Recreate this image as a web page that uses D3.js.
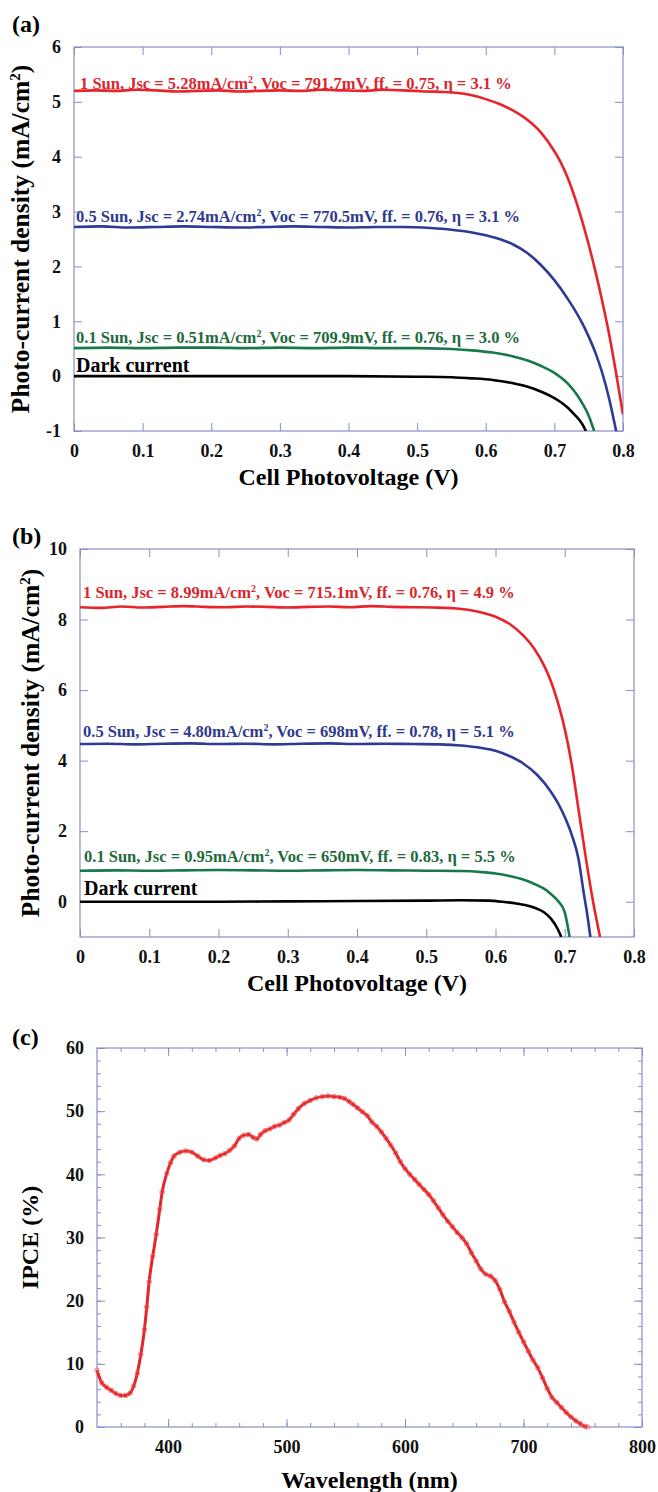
<!DOCTYPE html>
<html>
<head>
<meta charset="utf-8">
<script src="https://cdn.jsdelivr.net/npm/d3@7"></script>
<style>
  body { margin: 0; background: #fff; }
  text { font-family: "Liberation Serif", "Times New Roman", serif; font-weight: bold; }
</style>
</head>
<body>
<div id="chart"></div>
<script>
// ---------- data ----------
var ivTicksX = [0, 0.1, 0.2, 0.3, 0.4, 0.5, 0.6, 0.7, 0.8];
var aTicksY = [-1, 0, 1, 2, 3, 4, 5, 6];
var bTicksY = [0, 2, 4, 6, 8, 10];
var cTicksX = [400, 500, 600, 700, 800];
var cTicksY = [0, 10, 20, 30, 40, 50, 60];

// (a) J-V curves, [V, mA/cm2]
var aSun1 = [[0,5.20],[0.03,5.21],[0.06,5.20],[0.09,5.22],[0.12,5.21],[0.15,5.19],[0.18,5.20],[0.21,5.21],[0.24,5.19],[0.27,5.20],[0.30,5.21],[0.33,5.20],[0.36,5.22],[0.39,5.21],[0.42,5.20],[0.45,5.22],[0.48,5.21],[0.51,5.19],[0.54,5.18],[0.56,5.16],[0.58,5.12],[0.60,5.05],[0.62,4.96],[0.64,4.84],[0.66,4.68],[0.68,4.45],[0.70,4.10],[0.71,3.88],[0.72,3.60],[0.73,3.25],[0.74,2.85],[0.75,2.40],[0.76,1.90],[0.77,1.35],[0.78,0.75],[0.79,0.05],[0.80,-0.70]];
var aSun05 = [[0,2.72],[0.04,2.73],[0.08,2.71],[0.12,2.72],[0.16,2.73],[0.20,2.72],[0.24,2.71],[0.28,2.72],[0.32,2.73],[0.36,2.72],[0.40,2.71],[0.44,2.72],[0.48,2.72],[0.52,2.70],[0.55,2.67],[0.58,2.62],[0.60,2.57],[0.62,2.50],[0.64,2.40],[0.66,2.25],[0.68,2.03],[0.70,1.75],[0.72,1.40],[0.74,0.98],[0.75,0.72],[0.76,0.42],[0.77,0.05],[0.78,-0.42],[0.79,-1.0]];
var aSun01 = [[0,0.51],[0.05,0.52],[0.10,0.51],[0.15,0.52],[0.20,0.52],[0.25,0.51],[0.30,0.52],[0.35,0.51],[0.40,0.52],[0.45,0.51],[0.50,0.51],[0.54,0.50],[0.58,0.47],[0.61,0.43],[0.64,0.36],[0.66,0.29],[0.68,0.19],[0.70,0.06],[0.71,-0.03],[0.72,-0.14],[0.73,-0.29],[0.74,-0.48],[0.75,-0.72],[0.758,-1.0]];
var aDark = [[0,0],[0.1,0],[0.2,0],[0.3,0],[0.4,0],[0.5,-0.01],[0.55,-0.02],[0.58,-0.04],[0.61,-0.07],[0.64,-0.13],[0.66,-0.19],[0.68,-0.28],[0.70,-0.40],[0.71,-0.48],[0.72,-0.58],[0.73,-0.71],[0.74,-0.86],[0.746,-1.0]];

// (b) J-V curves
var bSun1 = [[0,8.35],[0.03,8.33],[0.06,8.37],[0.09,8.34],[0.12,8.36],[0.15,8.38],[0.18,8.36],[0.21,8.35],[0.24,8.37],[0.27,8.36],[0.30,8.34],[0.33,8.36],[0.36,8.37],[0.39,8.35],[0.42,8.38],[0.45,8.36],[0.48,8.35],[0.51,8.34],[0.54,8.32],[0.56,8.28],[0.58,8.20],[0.60,8.08],[0.62,7.88],[0.64,7.55],[0.655,7.20],[0.67,6.70],[0.68,6.25],[0.69,5.65],[0.70,4.90],[0.71,3.90],[0.72,2.60],[0.73,1.30],[0.74,0.10],[0.751,-1.0]];
var bSun05 = [[0,4.47],[0.04,4.48],[0.08,4.46],[0.12,4.48],[0.16,4.49],[0.20,4.47],[0.24,4.48],[0.28,4.46],[0.32,4.48],[0.36,4.49],[0.40,4.47],[0.44,4.48],[0.48,4.47],[0.52,4.46],[0.55,4.43],[0.58,4.36],[0.60,4.28],[0.62,4.13],[0.64,3.92],[0.66,3.60],[0.68,3.12],[0.69,2.80],[0.70,2.40],[0.71,1.90],[0.72,1.20],[0.727,0.30],[0.732,-0.30],[0.737,-1.0]];
var bSun01 = [[0,0.88],[0.05,0.89],[0.10,0.88],[0.15,0.89],[0.20,0.90],[0.25,0.89],[0.30,0.88],[0.35,0.89],[0.40,0.90],[0.45,0.89],[0.50,0.88],[0.55,0.87],[0.58,0.84],[0.60,0.80],[0.62,0.73],[0.64,0.63],[0.66,0.47],[0.67,0.37],[0.68,0.22],[0.69,0.03],[0.70,-0.30],[0.707,-1.0]];
var bDark = [[0,0],[0.1,0],[0.2,0],[0.3,0.01],[0.4,0.02],[0.5,0.03],[0.55,0.04],[0.59,0.03],[0.61,0],[0.63,-0.05],[0.65,-0.13],[0.66,-0.20],[0.67,-0.30],[0.68,-0.48],[0.69,-0.78],[0.695,-1.0]];

// (c) IPCE spectrum, [nm, %]
var ipce = [[340,9.0],[344,7.0],[348,6.3],[352,5.8],[356,5.3],[360,5.0],[364,5.0],[368,5.4],[371,6.5],[374,8.5],[377,11.5],[380,15.4],[382,19],[384,23],[387,27],[390,30.5],[393,34.5],[395,37.2],[399,40.2],[402,41.8],[405,42.9],[410,43.5],[415,43.7],[420,43.5],[425,42.9],[430,42.3],[435,42.2],[440,42.6],[444,43.0],[448,43.3],[452,43.8],[456,44.5],[460,45.7],[464,46.2],[468,46.3],[472,45.8],[475,45.6],[478,46.3],[482,46.9],[486,47.2],[490,47.6],[494,47.8],[498,48.2],[502,48.6],[506,49.5],[510,50.4],[515,51.2],[520,51.7],[525,52.1],[530,52.3],[535,52.4],[540,52.3],[545,52.2],[549,52.0],[553,51.5],[556,51.1],[560,50.5],[564,49.9],[568,49.3],[572,48.3],[576,47.6],[580,46.7],[584,45.7],[588,44.6],[592,43.4],[596,42.0],[600,40.9],[604,40.0],[608,39.2],[612,38.4],[616,37.6],[620,36.8],[624,35.8],[628,34.7],[632,33.6],[636,32.6],[640,31.7],[644,30.8],[648,30.0],[652,29.0],[656,27.6],[660,26.3],[664,25.0],[668,24.2],[672,23.9],[676,23.2],[680,21.8],[684,19.8],[688,18.3],[692,16.6],[696,15.0],[700,13.5],[704,12.0],[708,10.6],[712,9.4],[716,7.8],[720,6.1],[724,4.7],[728,3.9],[732,3.1],[736,2.3],[740,1.6],[744,1.0],[748,0.5],[752,0.1],[754,0.0]];

// annotation texts: [before superscript, superscript, after]
var aLabels = [
  ["1 Sun, Jsc = 5.28mA/cm", "2", ", Voc = 791.7mV, ff. = 0.75, η = 3.1 %"],
  ["0.5 Sun, Jsc = 2.74mA/cm", "2", ", Voc = 770.5mV, ff. = 0.76, η = 3.1 %"],
  ["0.1 Sun, Jsc = 0.51mA/cm", "2", ", Voc = 709.9mV, ff. = 0.76, η = 3.0 %"],
  ["Dark current", "", ""]
];
var bLabels = [
  ["1 Sun, Jsc = 8.99mA/cm", "2", ", Voc = 715.1mV, ff. = 0.76, η = 4.9 %"],
  ["0.5 Sun, Jsc = 4.80mA/cm", "2", ", Voc = 698mV, ff. = 0.78, η = 5.1 %"],
  ["0.1 Sun, Jsc = 0.95mA/cm", "2", ", Voc = 650mV, ff. = 0.83, η = 5.5 %"],
  ["Dark current", "", ""]
];

// ---------- drawing ----------
var frameColor = "#8a8ec6";
var lineColors = ["#e8232a", "#2d3a96", "#17784a", "#000"];
var textColors = ["#d8272e", "#2e3a8c", "#1d6a3c", "#000"];

var svg = d3.select("#chart")
  .append("svg")
  .attr("width", 658)
  .attr("height", 1492);

function fmtV(d) { return d === 0 ? "0" : d.toFixed(1); }

function drawPanel(p) {
  var x = d3.scaleLinear().domain(p.xDomain).range([p.left, p.right]);
  var y = d3.scaleLinear().domain(p.yDomain).range([p.bottom, p.top]);
  var g = svg.append("g");

  // minor ticks first (no labels)
  if (p.xMinor) {
    g.append("g").attr("transform", "translate(0," + p.bottom + ")")
      .call(d3.axisBottom(x).tickValues(p.xMinor).tickSize(-4).tickFormat(""));
    g.append("g").attr("transform", "translate(0," + p.top + ")")
      .call(d3.axisTop(x).tickValues(p.xMinor).tickSize(-4).tickFormat(""));
    g.append("g").attr("transform", "translate(" + p.left + ",0)")
      .call(d3.axisLeft(y).tickValues(p.yMinor).tickSize(-4).tickFormat(""));
    g.append("g").attr("transform", "translate(" + p.right + ",0)")
      .call(d3.axisRight(y).tickValues(p.yMinor).tickSize(-4).tickFormat(""));
  }

  // major ticks, inward on all four sides
  g.append("g").attr("class", "xlab").attr("transform", "translate(0," + p.bottom + ")")
    .call(d3.axisBottom(x).tickValues(p.xTicks).tickSize(-8).tickPadding(13).tickFormat(p.xFmt));
  g.append("g").attr("transform", "translate(0," + p.top + ")")
    .call(d3.axisTop(x).tickValues(p.xTicks).tickSize(-8).tickFormat(""));
  g.append("g").attr("class", "ylab").attr("transform", "translate(" + p.left + ",0)")
    .call(d3.axisLeft(y).tickValues(p.yTicks).tickSize(-8).tickPadding(13).tickFormat(function (d) { return String(d); }));
  g.append("g").attr("transform", "translate(" + p.right + ",0)")
    .call(d3.axisRight(y).tickValues(p.yTicks).tickSize(-8).tickFormat(""));

  g.selectAll(".domain").remove();
  g.selectAll(".tick line").attr("stroke", frameColor).attr("stroke-width", 1);
  g.selectAll(".xlab text, .ylab text")
    .attr("fill", "#111")
    .style("font-size", "18px");

  g.append("rect")
    .attr("x", p.left).attr("y", p.top)
    .attr("width", p.right - p.left).attr("height", p.bottom - p.top)
    .attr("fill", "none").attr("stroke", frameColor).attr("stroke-width", 1.2);

  var clipId = "clip" + p.tag;
  svg.append("clipPath").attr("id", clipId)
    .append("rect")
    .attr("x", p.left).attr("y", p.top)
    .attr("width", p.right - p.left).attr("height", p.bottom - p.top);

  // panel tag and axis titles
  svg.append("text").attr("x", 12).attr("y", p.tagY)
    .style("font-size", "24px").text("(" + p.tag + ")");

  svg.append("text")
    .attr("x", (p.left + p.right) / 2).attr("y", p.bottom + p.xTitleDy)
    .attr("text-anchor", "middle").style("font-size", "24px")
    .text(p.xTitle);

  var yt = svg.append("text")
    .attr("transform", "translate(" + p.yTitleX + "," + ((p.top + p.bottom) / 2) + ") rotate(-90)")
    .attr("text-anchor", "middle").style("font-size", p.yTitleSize)
    .text(p.yTitle[0]);
  if (p.yTitle[1]) {
    yt.append("tspan").attr("dy", -9).style("font-size", "15px").text(p.yTitle[1]);
    yt.append("tspan").attr("dy", 9).text(p.yTitle[2]);
  }

  return { x: x, y: y, g: g, clip: "url(#" + clipId + ")" };
}

function drawIV(p, series, labels) {
  var s = drawPanel(p);
  var line = d3.line()
    .x(function (d) { return s.x(d[0]); })
    .y(function (d) { return s.y(d[1]); })
    .curve(d3.curveMonotoneX);

  series.forEach(function (data, i) {
    svg.append("path")
      .datum(data)
      .attr("clip-path", s.clip)
      .attr("fill", "none")
      .attr("stroke", lineColors[i])
      .attr("stroke-width", 2.6)
      .attr("d", line);

    var lab = labels[i];
    var t = svg.append("text")
      .attr("x", p.left + p.labelDx[i])
      .attr("y", s.y(data[0][1]) - p.labelDy[i])
      .attr("fill", textColors[i])
      .style("font-size", i === 3 ? "20px" : "16.5px")
      .text(lab[0]);
    if (lab[1]) {
      t.append("tspan").attr("dy", -6).style("font-size", "10px").text(lab[1]);
      t.append("tspan").attr("dy", 6).text(lab[2]);
    }
  });
}

// (a)
drawIV({
  tag: "a", tagY: 32,
  left: 74, right: 623, top: 47, bottom: 431,
  xDomain: [0, 0.8], yDomain: [-1, 6],
  xTicks: ivTicksX, yTicks: aTicksY, xFmt: fmtV,
  xTitle: "Cell Photovoltage (V)", xTitleDy: 54,
  yTitle: ["Photo-current density (mA/cm", "2", ")"], yTitleX: 29, yTitleSize: "25.5px",
  labelDx: [6, 2, 2, 2], labelDy: [2, 5, 5, 4]
}, [aSun1, aSun05, aSun01, aDark], aLabels);

// (b)
drawIV({
  tag: "b", tagY: 544,
  left: 80, right: 634, top: 549, bottom: 937,
  xDomain: [0, 0.8], yDomain: [-1, 10],
  xTicks: ivTicksX, yTicks: bTicksY, xFmt: fmtV,
  xTitle: "Cell Photovoltage (V)", xTitleDy: 54,
  yTitle: ["Photo-current density (mA/cm", "2", ")"], yTitleX: 39, yTitleSize: "25.5px",
  labelDx: [3, 3, 4, 4], labelDy: [9, 7, 9, 7]
}, [bSun1, bSun05, bSun01, bDark], bLabels);

// (c)
var c = drawPanel({
  tag: "c", tagY: 1045,
  left: 97, right: 642, top: 1048, bottom: 1427,
  xDomain: [340, 800], yDomain: [0, 60],
  xTicks: cTicksX, yTicks: cTicksY, xFmt: function (d) { return String(d); },
  xMinor: d3.range(360, 800, 20), yMinor: d3.range(2, 60, 2),
  xTitle: "Wavelength (nm)", xTitleDy: 61,
  yTitle: ["IPCE (%)"], yTitleX: 38, yTitleSize: "24px"
});

var ipceLine = d3.line()
  .x(function (d) { return c.x(d[0]); })
  .y(function (d) { return c.y(d[1]); })
  .curve(d3.curveMonotoneX);

svg.append("path")
  .datum(ipce)
  .attr("fill", "none")
  .attr("stroke", "#e3262a")
  .attr("stroke-width", 3)
  .attr("d", ipceLine);

svg.append("g")
  .selectAll(null)
  .data(ipce)
  .enter()
  .append("circle")
  .attr("cx", function (d) { return c.x(d[0]); })
  .attr("cy", function (d) { return c.y(d[1]); })
  .attr("r", 2.3)
  .attr("fill", "none")
  .attr("stroke", "#ee5a5a")
  .attr("stroke-width", 0.8);
</script>
</body>
</html>
